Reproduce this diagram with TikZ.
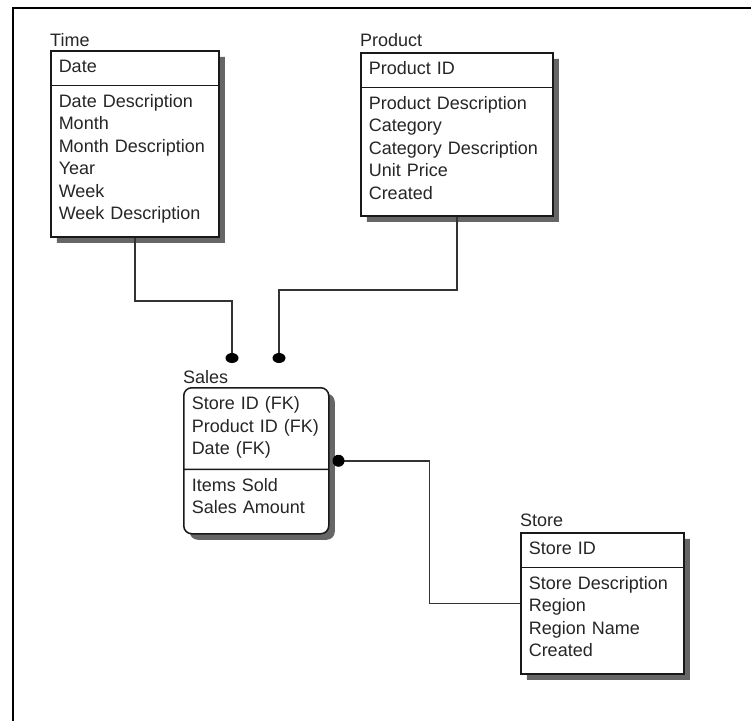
\documentclass[tikz,border=0pt]{standalone}
\usepackage{fontspec}
\setmainfont{Liberation Sans}
\usepackage{tikz}
\usetikzlibrary{calc}
\usetikzlibrary{shapes.multipart}
\usetikzlibrary{shadows}

\newcommand{\entfont}{\fontsize{18}{22.5}\selectfont}
\newcommand{\padrow}[1]{\rule[-#1]{0pt}{0pt}}

\tikzset{
  entity/.style={rectangle split, rectangle split parts=2, draw=black!90, line width=1.5pt,
    fill=white, font=\entfont, text=black!85, align=left, inner xsep=8pt, inner ysep=5.25pt,
    anchor=north west, drop shadow={shadow xshift=6pt, shadow yshift=-6pt, fill=black!60, opacity=1}},
  enttitle/.style={font=\entfont, text=black!85, inner sep=0pt, anchor=base west},
  link/.style={draw=black!80, line width=1.5pt},
}

\begin{document}
\begin{tikzpicture}[x=1pt, y=-1pt]
      \useasboundingbox (0,0) rectangle (751,721);
      % Frame
      \draw[line width=2.5pt] (13,721) -- (13,8) -- (751,8);
      % Tables
      \node[entity, text width=152pt] (time) at (50,50) {\strut Date\strut
        \nodepart{two}\strut Date Description\\Month\\Month Description\\Year\\Week\\Week Description\padrow{11.25pt}};
      \node[entity, text width=176pt] (product) at (360,52) {\strut Product ID\strut
        \nodepart{two}\strut Product Description\\Category\\Category Description\\Unit Price\\Created\padrow{10.75pt}};
      \node[entity, text width=129pt, rounded corners=8pt] (sales) at (183,387) {\strut Store ID (FK)\\Product ID (FK)\\Date (FK)\padrow{8.75pt}
        \nodepart{two}\strut Items Sold\\Sales Amount\padrow{14.25pt}};
      \node[entity, text width=147pt] (store) at (520,532) {\strut Store ID\strut
        \nodepart{two}\strut Store Description\\Region\\Region Name\\Created\padrow{11.25pt}};
      % Table names
      \node[enttitle] (timelbl) at ($(time.north west)+(0,-4)$) {Time};
      \node[enttitle] (productlbl) at ($(product.north west)+(0,-6)$) {Product};
      \node[enttitle] (saleslbl) at ($(sales.north west)+(0,-4)$) {Sales};
      \node[enttitle] (storelbl) at ($(store.north west)+(0,-6)$) {Store};
      % Relations
      \coordinate (timebend) at (232,301);
      \coordinate (timedot) at (232,358);
      \coordinate (prodbend) at (279,290);
      \coordinate (proddot) at (279,358);
      \coordinate (salesdot) at ($(sales.east)+(9,0)$);
      \draw[link] (time.south) |- (timebend) -- (timedot);
      \draw[link] (product.south) |- (prodbend) -- (proddot);
      \draw[link] (salesdot) -| ($(salesdot)!.5!(store.west)$) |- (store.west);
      \fill[black] (timedot) ellipse (6.5pt and 5pt) (proddot) ellipse (6.5pt and 5pt) (salesdot) ellipse (6pt and 6pt);
    \end{tikzpicture}
\end{document}
